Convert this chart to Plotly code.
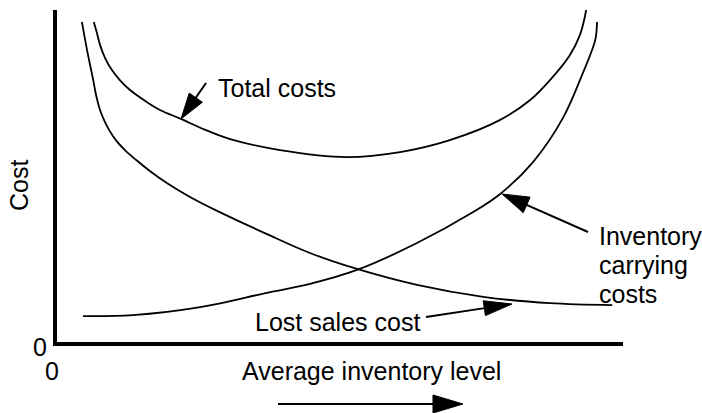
import math
import plotly.graph_objects as go

# ---- data (arbitrary units; axes run 0..100) ----
lost_sales_x = [4.4, 5.3, 6.4, 6.9, 7.6, 8.3, 9.2, 10.4, 12.0, 14.0, 16.4, 19.4, 23.5, 28.3,
                37.1, 44.7, 53.0, 63.6, 75.3, 87.1, 98.1]
lost_sales_y = [96.4, 88.0, 78.9, 74.4, 69.9, 66.9, 63.9, 60.8, 57.8, 54.8, 51.5, 47.9, 43.7, 39.5,
                32.5, 26.8, 22.0, 17.2, 13.6, 11.7, 11.1]

carrying_x = [4.6, 13.4, 25.3, 37.1, 44.7, 53.0, 63.6, 73.0, 78.3, 84.1, 89.4, 92.9, 95.1, 95.4]
carrying_y = [7.8, 8.1, 10.5, 14.8, 17.5, 21.7, 29.8, 38.6, 44.6, 54.2, 67.5, 81.0, 91.0, 96.4]

total_x = [6.5, 7.1, 7.6, 8.5, 9.7, 11.1, 12.9, 15.6, 18.2, 21.9, 26.2, 30.6, 39.4, 51.2,
           60.6, 69.4, 78.3, 83.6, 87.1, 90.6, 92.4, 93.5]
total_y = [96.4, 92.8, 89.5, 85.5, 81.9, 78.9, 75.9, 72.6, 69.9, 67.2, 63.9, 61.1, 57.8, 55.7,
           57.2, 60.8, 66.9, 72.9, 78.9, 86.4, 92.5, 100.0]

x_tick_vals = [0]
x_tick_text = ["0"]
y_tick_vals = [0]
y_tick_text = ["0"]

x_title = "Average inventory level"
y_title = "Cost"
label_total = "Total costs"
label_carrying = ["Inventory", "carrying", "costs"]
label_lost = "Lost sales cost"

# ---- layout constants (pixels) ----
W, H = 702, 413
ML, MR, MT, MB = 57, 79, 10, 71
PW = W - ML - MR
PH = H - MT - MB
FONT = "Liberation Sans, Arial, sans-serif"
FS = 25


def paper(px, py):
    return (px - ML) / PW, (H - MB - py) / PH


fig = go.Figure()
for xs, ys in [(lost_sales_x, lost_sales_y), (carrying_x, carrying_y), (total_x, total_y)]:
    fig.add_trace(go.Scatter(
        x=xs, y=ys, mode="lines",
        line=dict(color="black", width=1.8, shape="spline", smoothing=1.0),
        hoverinfo="skip", showlegend=False, cliponaxis=False,
    ))

shapes = []


def arrow(tail, tip, hl, hw, lw=2):
    tx, ty = tail
    hx, hy = tip
    d = math.hypot(hx - tx, hy - ty)
    ux, uy = (hx - tx) / d, (hy - ty) / d
    bx, by = hx - ux * hl, hy - uy * hl
    nx, ny = -uy, ux
    c1 = (bx + nx * hw / 2, by + ny * hw / 2)
    c2 = (bx - nx * hw / 2, by - ny * hw / 2)
    p0 = paper(tx, ty)
    p1 = paper(bx + ux * 2, by + uy * 2)
    shapes.append(dict(type="line", xref="paper", yref="paper",
                       x0=p0[0], y0=p0[1], x1=p1[0], y1=p1[1],
                       line=dict(color="black", width=lw)))
    pts = [paper(hx, hy), paper(*c1), paper(*c2)]
    path = "M{:.5f},{:.5f} L{:.5f},{:.5f} L{:.5f},{:.5f} Z".format(
        pts[0][0], pts[0][1], pts[1][0], pts[1][1], pts[2][0], pts[2][1])
    shapes.append(dict(type="path", xref="paper", yref="paper", path=path,
                       fillcolor="black", line=dict(color="black", width=1)))


arrow((206, 83), (181, 119), 26, 16)
arrow((588, 232), (502, 194), 27, 17)
arrow((426, 317), (512, 304), 28, 15)
arrow((278, 404), (463, 404), 30, 18)


def label(text, px, py, xanchor="left", yanchor="middle", angle=0, align="left"):
    x, y = paper(px, py)
    return dict(text=text, x=x, y=y, xref="paper", yref="paper",
                xanchor=xanchor, yanchor=yanchor, showarrow=False,
                textangle=angle, align=align,
                font=dict(family=FONT, size=FS, color="black"))


annotations = [
    label(label_total, 216, 88),
    label(label_lost, 253, 322),
    label(label_carrying[0], 597, 236),
    label(label_carrying[1], 597, 265),
    label(label_carrying[2], 597, 294),
    label(x_title, 240, 371),
    label(y_title, 19, 186, xanchor="center", angle=-90),
]

fig.update_layout(
    width=W, height=H,
    margin=dict(l=ML, r=MR, t=MT, b=MB, pad=0, autoexpand=False),
    paper_bgcolor="white", plot_bgcolor="white",
    font=dict(family=FONT, size=FS, color="black"),
    shapes=shapes, annotations=annotations,
    xaxis=dict(range=[0, 100], showline=True, linewidth=4, linecolor="black",
               showgrid=False, zeroline=False, ticks="", automargin=False,
               tickvals=x_tick_vals, ticktext=x_tick_text,
               ticklabelstandoff=4, ticklabelshift=-5,
               tickfont=dict(family=FONT, size=FS, color="black")),
    yaxis=dict(range=[0, 100], showline=True, linewidth=4, linecolor="black",
               showgrid=False, zeroline=False, ticks="", automargin=False,
               tickvals=y_tick_vals, ticktext=y_tick_text,
               ticklabelstandoff=1, ticklabelshift=5,
               tickfont=dict(family=FONT, size=FS, color="black")),
)

fig.write_html(
    "out.html",
    config={"displayModeBar": False},
    post_script="document.body.style.margin='0';document.body.style.overflow='hidden';",
)
